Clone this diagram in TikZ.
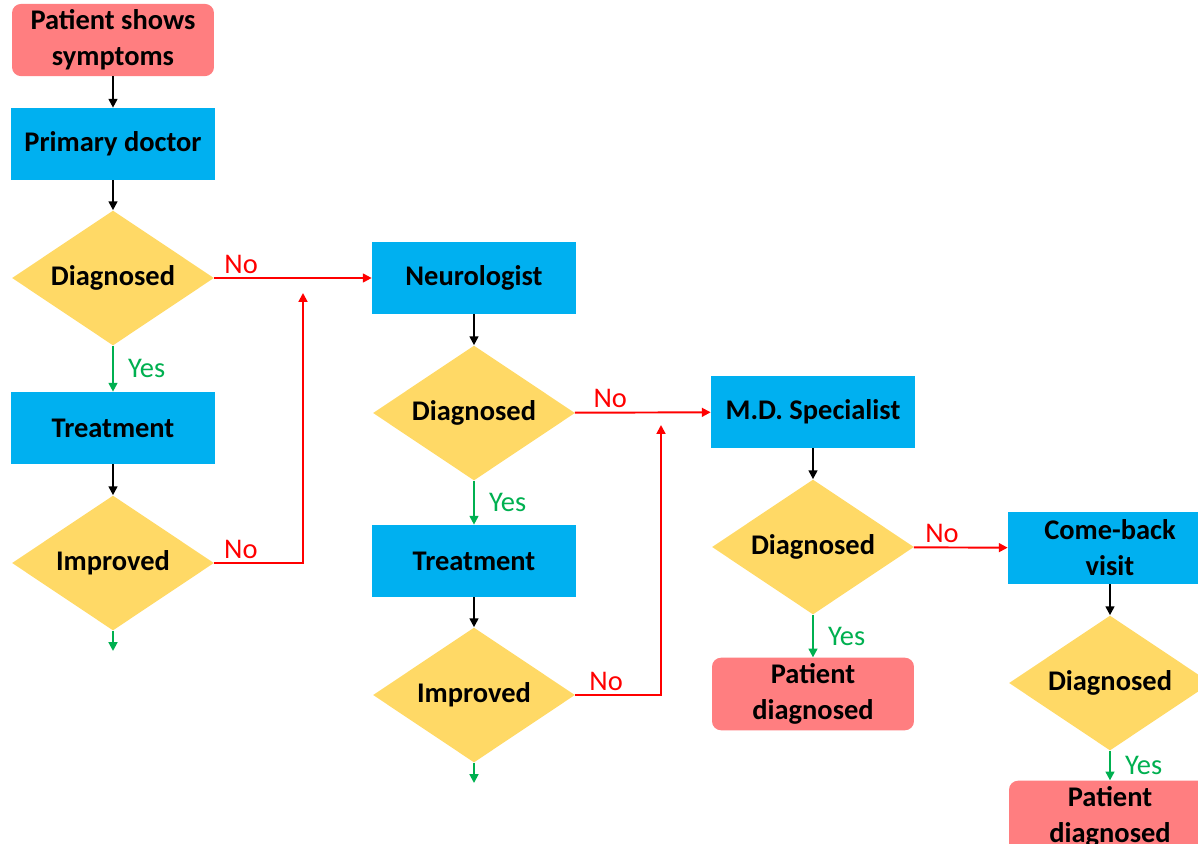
\documentclass[tikz,border=0pt]{standalone}
\usepackage{fontspec}
\setmainfont{Carlito}
\usepackage{tikz}
\usetikzlibrary{shapes.geometric,arrows.meta,positioning}
\definecolor{boxblue}{RGB}{0,176,240}
\definecolor{boxred}{RGB}{255,126,128}
\definecolor{boxyellow}{RGB}{255,217,102}
\definecolor{yesgreen}{RGB}{0,176,80}
\newcommand{\chartfont}{\fontsize{16.2}{20.5}\selectfont}
\tikzset{
  proc/.style={rectangle, fill=boxblue, minimum width=4.08cm, minimum height=1.44cm, align=center, font=\chartfont\bfseries},
  term/.style={rectangle, rounded corners=0.18cm, fill=boxred, minimum width=4.04cm, minimum height=1.42cm, align=center, font=\chartfont\bfseries},
  decide/.style={diamond, aspect=1.5, fill=boxyellow, minimum width=4.04cm, minimum height=2.7cm, inner sep=0pt, font=\chartfont\bfseries},
  flow/.style={-{Triangle[length=5pt,width=5pt]}, line width=1.1pt},
  yesflow/.style={flow, draw=yesgreen},
  noflow/.style={flow, draw=red},
  yeslab/.style={font=\chartfont, text=yesgreen, inner sep=2pt},
  nolab/.style={font=\chartfont, text=red, inner sep=2pt}
}

\begin{document}
\begin{tikzpicture}[x=0.02cm, y=-0.02cm]
        %BINGKAI
        \useasboundingbox (0,0) rectangle (1198,843);
        \clip (0,0) rectangle (1198,843);
        %KOLOM 1
        \node[term] (S) at (113,40) {Patient shows\\symptoms};
        \node[proc] (P1) at (113,144) {Primary doctor};
        \node[decide] (D1) at (113,278) {Diagnosed};
        \node[proc] (T1) at (113,428) {Treatment};
        \node[decide] (I1) at (113,563) {Improved};
        %KOLOM 2
        \node[proc] (N) at (474,278) {Neurologist};
        \node[decide] (D2) at (474,413) {Diagnosed};
        \node[proc] (T2) at (474,561) {Treatment};
        \node[decide] (I2) at (474,695) {Improved};
        %KOLOM 3
        \node[proc] (M) at (813,412) {M.D. Specialist};
        \node[decide] (D3) at (813,547) {Diagnosed};
        \node[term] (R3) at (813,694) {Patient\\diagnosed};
        %KOLOM 4
        \node[proc] (C) at (1110,548) {Come-back\\visit};
        \node[decide] (D4) at (1110,683) {Diagnosed};
        \node[term] (R4) at (1110,817) {Patient\\diagnosed};
        %KOORDINAT
        \coordinate (E1) at (113,651);
        \coordinate (E2) at (474,783);
        \coordinate (K1) at (303,293);
        \coordinate (K2) at (661,425);
        %PANAH
        \draw[flow] (S) -- (P1);
        \draw[flow] (P1) -- (D1);
        \draw[yesflow] (D1) -- node[yeslab, midway, right=6pt] {Yes} (T1);
        \draw[flow] (T1) -- (I1);
        \draw[yesflow] (I1) -- (E1);
        \draw[noflow] (D1) -- node[nolab, pos=0.17, above] {No} (N);
        \draw[noflow] (I1.east) -| node[nolab, pos=0.15, above] {No} (K1);

        \draw[flow] (N) -- (D2);
        \draw[yesflow] (D2) -- node[yeslab, midway, right=6pt] {Yes} (T2);
        \draw[flow] (T2) -- (I2);
        \draw[yesflow] (I2) -- (E2);
        \draw[noflow] (D2) -- node[nolab, pos=0.26, above] {No} (M);
        \draw[noflow] (I2.east) -| node[nolab, pos=0.18, above] {No} (K2);

        \draw[flow] (M) -- (D3);
        \draw[yesflow] (D3) -- node[yeslab, midway, right=6pt] {Yes} (R3);
        \draw[noflow] (D3) -- node[nolab, pos=0.3, above] {No} (C);

        \draw[flow] (C) -- (D4);
        \draw[yesflow] (D4) -- node[yeslab, midway, right=6pt] {Yes} (R4);
    \end{tikzpicture}
\end{document}
